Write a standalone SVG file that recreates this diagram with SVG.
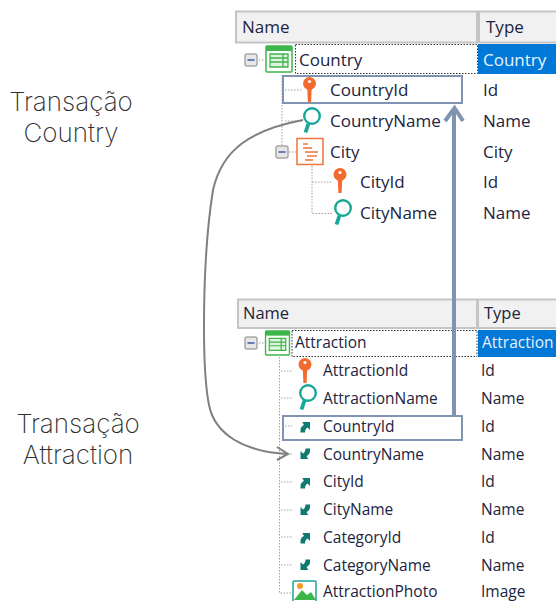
<svg xmlns="http://www.w3.org/2000/svg" width="556" height="601" viewBox="0 0 556 601">
<style>
.t{font-family:"Open Sans","Noto Sans",sans-serif;font-size:17px;fill:#1c2440}
.t2{font-family:"Open Sans","Noto Sans",sans-serif;font-size:15.5px;fill:#1c2440}
.t3{font-family:"Open Sans","Noto Sans",sans-serif;font-size:16.5px;fill:#1c2440}
.sel{fill:#e8f2fc}
.big{font-family:"Inter","Open Sans",sans-serif;font-weight:200;font-size:26px;fill:#303030;text-anchor:middle}
.hd{fill:#f1f1f1;stroke:#c4c4c4;stroke-width:2}
.dot{fill:none;stroke:#a0a0a0;stroke-width:1;stroke-dasharray:1.5 1.5}
.foc{fill:none;stroke:#333;stroke-width:1;stroke-dasharray:1.5 1.5}
.box{fill:none;stroke:#8093b0;stroke-width:2}
</style>
<defs>
<g id="key"><circle cx="0" cy="-4.500" r="6.500" fill="#f26a2e"/><circle cx="0" cy="-6.500" r="1.600" fill="#fff"/><path d="M-2.200,0h4.400l-0.600,14h-3.200z" fill="#f26a2e"/></g>
<g id="lens"><circle cx="2" cy="-4" r="7.800" fill="none" stroke="#17a898" stroke-width="2.400"/><path d="M-1.500,3.500 L-4.500,12.500" fill="none" stroke="#17a898" stroke-width="3.800"/></g>
<g id="up"><path d="M-4.500,5.500 L-4.500,3 C-4.500,0.500 -3,-1 -1,-2 L-2.800,-5 L5,-5 L5,3 L2.500,0.500 C1,1.500 0,3 0,5.500z" fill="#0f7a70"/></g>
<g id="dn"><path d="M5,-5.500 L5,-3 C5,-0.500 3.500,1 1.500,2 L3.300,5 L-4.500,5 L-4.500,-3 L-2,-0.500 C-0.500,-1.500 0.500,-3 0.500,-5.500z" fill="#0f7a70"/></g>
<g id="minus"><rect x="-6" y="-6" width="12" height="12" rx="2" fill="#e6e6e6" stroke="#a8a8a8" stroke-width="1.500"/><path d="M-3.500,0h7" stroke="#3f57a8" stroke-width="1.500"/></g>
<g id="tbl"><rect x="-13" y="-13" width="26" height="26" rx="1" fill="#fff" stroke="#3cb64a" stroke-width="1.500"/><rect x="-13" y="-13" width="26" height="5" fill="#3cb64a"/><path d="M-9,-5h18v13h-18z" fill="#dff3df"/><path d="M-9,-5h18v13h-18z M-9,-1h18 M-9,3h18 M4,-5v13" fill="none" stroke="#3cb64a" stroke-width="1.300"/></g>
</defs>

<g id="table-country">
<rect class="hd" x="236" y="11.500" width="241" height="31"/>
<rect class="hd" x="479" y="11.500" width="80" height="31"/>
<rect x="478" y="44" width="78" height="30" fill="#0078d7"/>
<rect class="foc" x="295.500" y="44.500" width="182" height="29"/>
<text class="t" x="242" y="33">Name</text>
<text class="t" x="486" y="33">Type</text>
<path class="dot" d="M282,75V146 M285,90H302 M285,121H302 M312,166V213.500H332 M312,182H332 M259,60H266 M289,152H296"/>
</g>
<g id="node-country"><use href="#minus" x="251" y="60"/><use href="#tbl" x="279" y="59"/><text class="t" x="299" y="65.500">Country</text><text class="t sel" x="483" y="65.500">Country</text></g>
<g id="node-countryid"><use href="#key" x="309.500" y="88"/><text class="t" x="330" y="96">CountryId</text><text class="t" x="483" y="96">Id</text></g>
<g id="node-countryname"><use href="#lens" x="310" y="120"/><text class="t" x="330" y="126.500">CountryName</text><text class="t" x="483" y="126.500">Name</text></g>
<g id="node-city"><use href="#minus" x="282" y="152"/><rect x="297" y="138.500" width="26" height="26" fill="#fff" stroke="#f0733a" stroke-width="1.500"/><path d="M303,144h5 M303,148h9 M305,152h13 M307,156h10 M305,160h8" stroke="#f0733a" stroke-width="1.300"/><text class="t" x="330" y="157.500">City</text><text class="t" x="483" y="157.500">City</text></g>
<g id="node-cityid"><use href="#key" x="340" y="179"/><text class="t" x="360" y="188">CityId</text><text class="t" x="483" y="188">Id</text></g>
<g id="node-cityname"><use href="#lens" x="341" y="212"/><text class="t" x="360" y="218.500">CityName</text><text class="t" x="483" y="218.500">Name</text></g>

<g id="table-attraction">
<rect class="hd" x="238" y="299.500" width="239" height="28.500"/>
<rect class="hd" x="478" y="299.500" width="80" height="28.500"/>
<rect x="478" y="330" width="78" height="27" fill="#0078d7"/>
<rect class="foc" x="292" y="330.500" width="185" height="26"/>
<text class="t3" x="243" y="319">Name</text>
<text class="t3" x="484" y="319">Type</text>
<path class="dot" d="M279.500,357V593H292 M281,371H292 M281,398H292 M285,426H292 M281,454H292 M281,482H292 M281,510H292 M281,537H292 M281,565H292 M259,343H265"/>
</g>
<g id="node-attraction"><use href="#minus" x="251" y="343"/><g transform="translate(277.500,343) scale(0.92)"><use href="#tbl"/></g><text class="t2" x="295" y="348">Attraction</text><text class="t2 sel" x="482" y="348">Attraction</text></g>
<g id="node-attractionid"><use href="#key" x="305" y="369"/><text class="t2" x="323" y="376">AttractionId</text><text class="t2" x="481" y="376">Id</text></g>
<g id="node-attractionname"><use href="#lens" x="306" y="397"/><text class="t2" x="323" y="404">AttractionName</text><text class="t2" x="481" y="404">Name</text></g>
<g id="node-a-countryid"><use href="#up" x="305" y="427"/><text class="t2" x="323" y="431.500">CountryId</text><text class="t2" x="481" y="431.500">Id</text></g>
<g id="node-a-countryname"><use href="#dn" x="305" y="454"/><text class="t2" x="323" y="459.500">CountryName</text><text class="t2" x="481" y="459.500">Name</text></g>
<g id="node-a-cityid"><use href="#up" x="305" y="483"/><text class="t2" x="323" y="487">CityId</text><text class="t2" x="481" y="487">Id</text></g>
<g id="node-a-cityname"><use href="#dn" x="305" y="510"/><text class="t2" x="323" y="515">CityName</text><text class="t2" x="481" y="515">Name</text></g>
<g id="node-a-categoryid"><use href="#up" x="305" y="538"/><text class="t2" x="323" y="542.500">CategoryId</text><text class="t2" x="481" y="542.500">Id</text></g>
<g id="node-a-categoryname"><use href="#dn" x="305" y="565"/><text class="t2" x="323" y="570.500">CategoryName</text><text class="t2" x="481" y="570.500">Name</text></g>
<g id="node-a-photo"><rect x="293" y="581" width="23" height="22" rx="1" fill="#fff" stroke="#18a596" stroke-width="1.500"/><circle cx="300" cy="586" r="3" fill="#f59a23"/><path d="M294,600L302,590L307,595L311,592L316,600z" fill="#3cb64a"/><text class="t2" x="323" y="596.500">AttractionPhoto</text><text class="t2" x="481" y="596.500">Image</text></g>

<g id="labels">
<text class="big" x="71" y="111">Transação</text>
<text class="big" x="71" y="142">Country</text>
<text class="big" x="78" y="433">Transação</text>
<text class="big" x="78" y="464">Attraction</text>
</g>

<g id="connectors" fill="none">
<rect class="box" x="283" y="76" width="179" height="27"/>
<rect class="box" x="283" y="416" width="179" height="24"/>
<path d="M454,415V108" stroke="#8093b0" stroke-width="4"/>
<path d="M445,121L454.500,108L463,121" stroke="#8093b0" stroke-width="4"/>
<path d="M303,120C250,130 222,150 213,190C205,240 204,290 204,327C204,360 205,385 209,405C215,435 245,452 288,454" stroke="#808080" stroke-width="2"/>
<path d="M277,447L288,454L277,460" stroke="#808080" stroke-width="2"/>
</g>
</svg>
